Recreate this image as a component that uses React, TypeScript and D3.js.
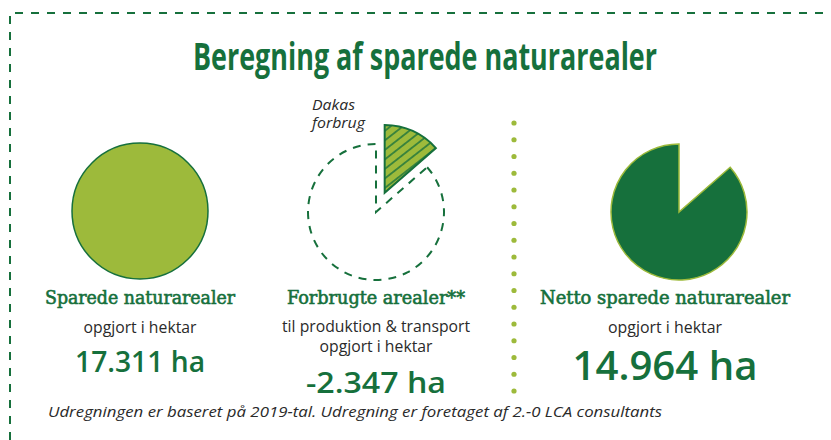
import React, { useEffect, useRef } from "react";
import * as d3 from "d3";

// areas in hectares
const savedHa = 17311;
const usedHa = 2347;
const netHa = 14964;

const sliceNames = ["Dakas forbrug", "Netto sparede naturarealer"];
const sliceValues = [usedHa, netHa];

const columnTitles = ["Sparede naturarealer", "Forbrugte arealer**", "Netto sparede naturarealer"];
const columnSubtitles = [
  ["opgjort i hektar"],
  ["til produktion & transport", "opgjort i hektar"],
  ["opgjort i hektar"],
];
const columnValues = [savedHa, -usedHa, netHa];

const title = "Beregning af sparede naturarealer";
const footnote = "Udregningen er baseret på 2019-tal. Udregning er foretaget af 2.-0 LCA consultants";
const sliceLabel = ["Dakas", "forbrug"];

const DARK = "#16703c";
const LIGHT = "#9dba3b";
const TEXT = "#2a2a2a";

const condensed = "'Liberation Sans Narrow', 'Open Sans', sans-serif";
const serif = "'DejaVu Serif Condensed', 'DejaVu Serif', serif";
const numFont = "'Open Sans', 'Liberation Sans', sans-serif";

export default function App() {
  const svgRef = useRef<SVGSVGElement>(null);
  const width = 831;
  const height = 440;

  useEffect(() => {
    const svg = d3.select(svgRef.current);
    svg.selectAll("*").remove();

    const fmt = d3.formatLocale({
      decimal: ",",
      thousands: ".",
      grouping: [3],
      currency: ["", ""],
      minus: "-",
    }).format(",d");

    const r = 68;
    const arc: any = d3.arc().innerRadius(0).outerRadius(r);
    const pie = d3.pie<number>().sort(null).value((d) => d);
    const slices = pie(sliceValues);

    // hatch pattern for the consumed slice
    const defs = svg.append("defs");
    const pat = defs
      .append("pattern")
      .attr("id", "hatch")
      .attr("patternUnits", "userSpaceOnUse")
      .attr("width", 7.5)
      .attr("height", 7.5)
      .attr("patternTransform", "rotate(-38)");
    pat.append("rect").attr("width", 7.5).attr("height", 7.5).attr("fill", LIGHT);
    pat
      .append("line")
      .attr("x1", 0)
      .attr("x2", 7.5)
      .attr("y1", 3.75)
      .attr("y2", 3.75)
      .attr("stroke", DARK)
      .attr("stroke-width", 1.4);

    // dashed frame
    svg
      .append("path")
      .attr("d", `M10,${height} L10,13 L${width},13`)
      .attr("fill", "none")
      .attr("stroke", DARK)
      .attr("stroke-width", 2)
      .attr("stroke-dasharray", "8 8");

    svg
      .append("text")
      .text(title)
      .attr("x", 425)
      .attr("y", 70)
      .attr("text-anchor", "middle")
      .attr("font-family", condensed)
      .attr("font-weight", "bold")
      .attr("font-size", 38)
      .attr("textLength", 464)
      .attr("lengthAdjust", "spacingAndGlyphs")
      .attr("fill", DARK);

    // left: full circle
    const left = svg.append("g").attr("transform", "translate(140,211)");
    left
      .selectAll("path")
      .data(pie([savedHa]))
      .enter()
      .append("path")
      .attr("d", arc)
      .attr("fill", LIGHT)
      .attr("stroke", DARK)
      .attr("stroke-width", 1.5);

    // middle: dashed remainder + exploded hatched slice
    const mid = svg.append("g").attr("transform", "translate(376,212)");
    mid
      .append("path")
      .attr("d", arc(slices[1]))
      .attr("fill", "none")
      .attr("stroke", DARK)
      .attr("stroke-width", 2)
      .attr("stroke-dasharray", "8 7");
    const midAngle = (slices[0].startAngle + slices[0].endAngle) / 2;
    const off = 21;
    mid
      .append("path")
      .attr("d", arc(slices[0]))
      .attr("transform", `translate(${Math.sin(midAngle) * off},${-Math.cos(midAngle) * off})`)
      .attr("fill", "url(#hatch)")
      .attr("stroke", DARK)
      .attr("stroke-width", 2)
      .attr("stroke-linejoin", "miter");

    const lbl = svg
      .append("text")
      .attr("font-family", "'Open Sans', sans-serif")
      .attr("font-style", "italic")
      .attr("font-size", 15)
      .attr("fill", TEXT);
    lbl.append("tspan").attr("x", 312).attr("y", 110).attr("textLength", 43).attr("lengthAdjust", "spacingAndGlyphs").text(sliceLabel[0]);
    lbl.append("tspan").attr("x", 312).attr("y", 128).attr("textLength", 53).attr("lengthAdjust", "spacingAndGlyphs").text(sliceLabel[1]);

    // right: net area
    const right = svg.append("g").attr("transform", "translate(679,212)");
    right
      .append("path")
      .attr("d", arc(slices[1]))
      .attr("fill", DARK)
      .attr("stroke", LIGHT)
      .attr("stroke-width", 1.5);

    // dotted divider
    svg
      .selectAll(".dot")
      .data(d3.range(17))
      .enter()
      .append("circle")
      .attr("class", "dot")
      .attr("cx", 514)
      .attr("cy", (d: number) => 123 + d * 16.75)
      .attr("r", 2.6)
      .attr("fill", LIGHT);

    // column texts
    const colX = [140, 376, 665];
    const titleLen = [190, 178, 250];
    const subLen = [[113], [188, 113], [114]];
    const subY = [[333], [332, 352], [333]];
    const valY = [372, 393, 380];
    const valSize = [28, 28, 40];
    const valLen = [130, 140, 185];

    columnTitles.forEach((t, i) => {
      svg
        .append("text")
        .text(t)
        .attr("x", colX[i])
        .attr("y", 304)
        .attr("text-anchor", "middle")
        .attr("font-family", serif)
        .attr("font-size", 19)
        .attr("textLength", titleLen[i])
        .attr("lengthAdjust", "spacingAndGlyphs")
        .attr("fill", DARK)
        .attr("stroke", DARK)
        .attr("stroke-width", 0.6);

      columnSubtitles[i].forEach((s, j) => {
        svg
          .append("text")
          .text(s)
          .attr("x", colX[i])
          .attr("y", subY[i][j])
          .attr("text-anchor", "middle")
          .attr("font-family", condensed)
          .attr("font-size", 17)
          .attr("textLength", subLen[i][j])
          .attr("lengthAdjust", "spacingAndGlyphs")
          .attr("fill", TEXT);
      });

      svg
        .append("text")
        .text(`${fmt(columnValues[i])} ha`)
        .attr("x", colX[i])
        .attr("y", valY[i])
        .attr("text-anchor", "middle")
        .attr("font-family", numFont)
        .attr("font-weight", 600)
        .attr("font-size", valSize[i])
        .attr("textLength", valLen[i])
        .attr("lengthAdjust", "spacingAndGlyphs")
        .attr("fill", DARK);
    });

    svg
      .append("text")
      .text(footnote)
      .attr("x", 48)
      .attr("y", 417)
      .attr("font-family", "'Open Sans', sans-serif")
      .attr("font-style", "italic")
      .attr("font-size", 15)
      .attr("textLength", 614)
      .attr("lengthAdjust", "spacingAndGlyphs")
      .attr("fill", TEXT);
  }, []);

  return (
    <div style={{ position: "absolute", left: 0, top: 0 }}>
      <svg ref={svgRef} width={width} height={height} style={{ display: "block", background: "#fff" }} />
    </div>
  );
}
